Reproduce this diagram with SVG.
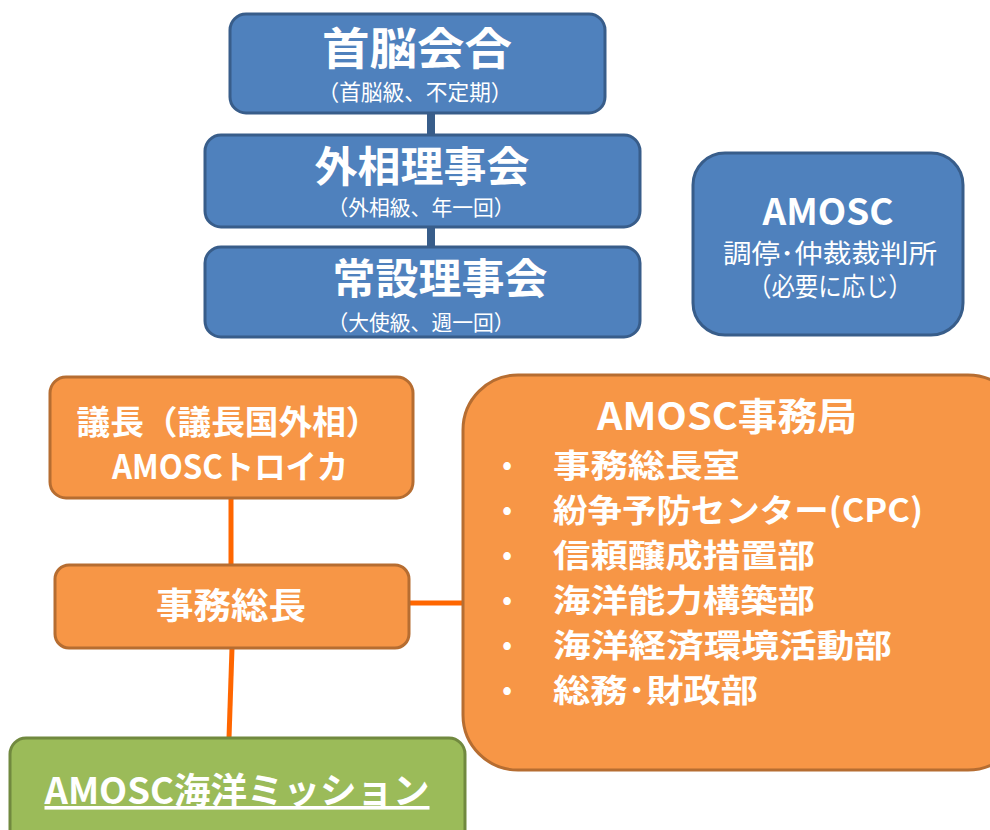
<svg xmlns="http://www.w3.org/2000/svg" width="990" height="830" viewBox="0 0 990 830">
<style>
text{font-family:"Noto Sans CJK JP","Noto Sans",sans-serif;fill:#fff;text-anchor:middle}
.b{fill:#4F81BD;stroke:#385D8A;stroke-width:3}
.o{fill:#F79646;stroke:#B66D31;stroke-width:3}
.g{fill:#9BBB59;stroke:#71893F;stroke-width:3}
.t{font-weight:bold}
.bl{stroke:#385D8A;stroke-width:8}
.ol{stroke:#FF6600;stroke-width:5}
.li{text-anchor:start;font-size:32px;font-weight:bold}
.dot{text-anchor:middle;font-size:30px}
</style>
<rect width="990" height="830" fill="#fff"/>
<g id="connectors">
<line class="bl" x1="431" y1="113" x2="431" y2="135"/>
<line class="bl" x1="431" y1="227" x2="431" y2="247"/>
<line class="ol" x1="231" y1="498" x2="231" y2="565"/>
<line class="ol" x1="232" y1="648" x2="229" y2="738"/>
<line class="ol" x1="409" y1="603" x2="463" y2="603"/>
</g>
<g id="summit">
<rect class="b" x="230" y="14" width="375" height="99" rx="16"/>
<text class="t" x="417" y="65" font-size="44" textLength="190" lengthAdjust="spacingAndGlyphs">首脳会合</text>
<text x="415" y="100" font-size="22" textLength="195" lengthAdjust="spacingAndGlyphs">（首脳級、不定期）</text>
</g>
<g id="ministerial">
<rect class="b" x="205" y="135" width="435" height="92" rx="16"/>
<text class="t" x="422" y="182" font-size="42" textLength="215" lengthAdjust="spacingAndGlyphs">外相理事会</text>
<text x="421" y="215" font-size="21" textLength="187" lengthAdjust="spacingAndGlyphs">（外相級、年一回）</text>
</g>
<g id="permanent">
<rect class="b" x="205" y="247" width="435" height="90" rx="16"/>
<text class="t" x="440" y="294" font-size="42" textLength="215" lengthAdjust="spacingAndGlyphs">常設理事会</text>
<text x="421" y="330" font-size="21" textLength="187" lengthAdjust="spacingAndGlyphs">（大使級、週一回）</text>
</g>
<g id="court">
<rect class="b" x="693" y="153" width="270" height="182" rx="32"/>
<text class="t" x="828" y="225" font-size="36" textLength="131" lengthAdjust="spacingAndGlyphs">AMOSC</text>
<text x="830" y="263" font-size="26" textLength="214" lengthAdjust="spacingAndGlyphs">調停･仲裁裁判所</text>
<text x="830" y="296" font-size="26" textLength="164" lengthAdjust="spacingAndGlyphs">（必要に応じ）</text>
</g>
<g id="chair">
<rect class="o" x="50" y="377" width="363" height="121" rx="16"/>
<text class="t" x="228" y="434" font-size="33" textLength="303" lengthAdjust="spacingAndGlyphs">議長（議長国外相）</text>
<text class="t" x="230" y="479" font-size="33" textLength="236" lengthAdjust="spacingAndGlyphs">AMOSCトロイカ</text>
</g>
<g id="secgen">
<rect class="o" x="55" y="565" width="354" height="83" rx="14"/>
<text class="t" x="231" y="619" font-size="36" textLength="150" lengthAdjust="spacingAndGlyphs">事務総長</text>
</g>
<g id="mission">
<rect class="g" x="10" y="738" width="455" height="110" rx="16"/>
<text class="t" x="237" y="804" font-size="36" textLength="385" lengthAdjust="spacingAndGlyphs" text-decoration="underline">AMOSC海洋ミッション</text>
</g>
<g id="secretariat">
<rect class="o" x="463" y="375" width="560" height="395" rx="55"/>
<text class="t" x="727" y="430" font-size="38" textLength="260" lengthAdjust="spacingAndGlyphs">AMOSC事務局</text>
<text class="dot" x="507" y="475">•</text>
<text class="dot" x="507" y="520">•</text>
<text class="dot" x="507" y="565">•</text>
<text class="dot" x="507" y="610">•</text>
<text class="dot" x="507" y="655">•</text>
<text class="dot" x="507" y="700">•</text>
<text class="li" x="553" y="477" textLength="187" lengthAdjust="spacingAndGlyphs">事務総長室</text>
<text class="li" x="553" y="522" textLength="370" lengthAdjust="spacingAndGlyphs">紛争予防センター(CPC)</text>
<text class="li" x="553" y="567" textLength="262" lengthAdjust="spacingAndGlyphs">信頼醸成措置部</text>
<text class="li" x="553" y="612" textLength="262" lengthAdjust="spacingAndGlyphs">海洋能力構築部</text>
<text class="li" x="553" y="657" textLength="339" lengthAdjust="spacingAndGlyphs">海洋経済環境活動部</text>
<text class="li" x="553" y="702" textLength="205" lengthAdjust="spacingAndGlyphs">総務･財政部</text>
</g>
</svg>
